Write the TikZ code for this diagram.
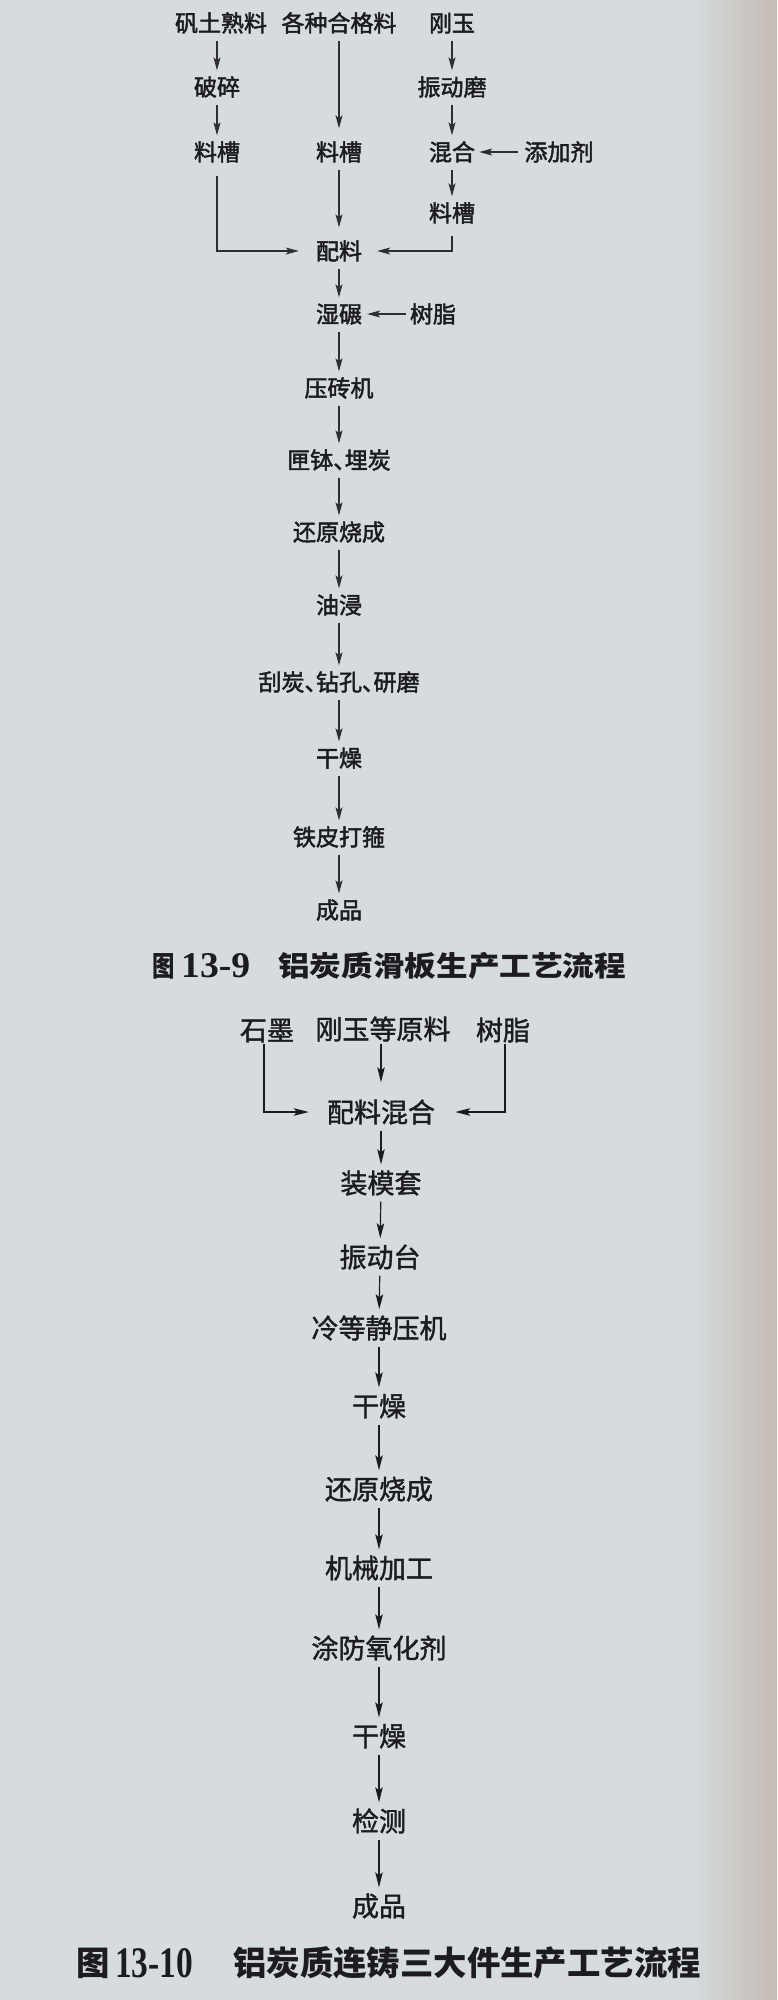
\documentclass[tikz,border=0pt]{standalone}
\usepackage{fontspec}
\usepackage{graphicx}
\setmainfont{Liberation Serif}
\newfontfamily\cjk{Noto Sans CJK SC}
\newfontfamily\cjkA[FakeBold=2]{Noto Sans CJK SC}
\newfontfamily\cjkB[FakeBold=1.4]{Noto Sans CJK SC}
\usetikzlibrary{arrows.meta}
\definecolor{paper}{RGB}{214,219,222}
\definecolor{edge}{RGB}{196,188,180}
\definecolor{ink}{RGB}{28,28,32}
\definecolor{lineA}{RGB}{45,45,50}
\newcommand{\dun}{、\hspace{-0.5em}}
\tikzset{
  tA/.style={inner xsep=2pt, inner ysep=0pt, text height=20.2pt, text depth=2.8pt,
    font=\cjkA\fontsize{23}{23}\selectfont, text=ink},
  tB/.style={inner xsep=2pt, inner ysep=0pt, text height=23.8pt, text depth=3.2pt,
    font=\cjkB\fontsize{27}{27}\selectfont, text=ink},
  capA/.style={inner sep=0pt, anchor=west, text height=24.6pt, text depth=3.4pt,
    font=\cjk\bfseries\fontsize{28}{28}\selectfont, text=ink},
  capB/.style={inner sep=0pt, anchor=west, text height=29.4pt, text depth=4pt,
    font=\cjk\bfseries\fontsize{33.4}{33.4}\selectfont, text=ink},
  capN/.style={inner sep=0pt, anchor=west, font=\bfseries, text=ink},
  arA/.style={draw=lineA, line width=1.1pt, -{Stealth[length=13pt,width=7pt,inset=3pt]},
    shorten <=6pt, shorten >=5pt},
  arB/.style={draw=ink, line width=1.2pt, -{Stealth[length=15pt,width=7.5pt,inset=3pt]},
    shorten <=5pt, shorten >=5pt},
}
\begin{document}
\begin{tikzpicture}[x=1pt,y=-1pt]
\useasboundingbox (0,0) rectangle (777,2000);
\fill[paper] (0,0) rectangle (777,2000);
\shade[left color=paper, right color=edge] (690,0) rectangle (777,2000);

% ---------- Figure 13-9 ----------
\node[tA] (a1) at (221,23) {矾土熟料};
\node[tA] (a2) at (339,23) {各种合格料};
\node[tA] (a3) at (452,23) {刚玉};
\node[tA] (b1) at (217,87) {破碎};
\node[tA] (b3) at (452,87) {振动磨};
\node[tA] (c1) at (217,152) {料槽};
\node[tA] (c2) at (339,152) {料槽};
\node[tA] (c3) at (452,152) {混合};
\node[tA] (c4) at (559,152) {添加剂};
\node[tA] (d3) at (452,213) {料槽};
\node[tA] (e) at (339,251) {配料};
\node[tA] (f) at (339,314) {湿碾};
\node[tA] (f2) at (433,314) {树脂};
\node[tA] (g) at (339,388) {压砖机};
\node[tA] (h) at (339,460) {匣钵\dun 埋炭};
\node[tA] (i) at (339,532) {还原烧成};
\node[tA] (j) at (339,605) {油浸};
\node[tA] (k) at (339,682) {刮炭\dun 钻孔\dun 研磨};
\node[tA] (l) at (339,758) {干燥};
\node[tA] (m) at (339,837) {铁皮打箍};
\node[tA] (n) at (339,910) {成品};

\draw[arA] (b1 |- a1.south) -- (b1);
\draw[arA] (b1) -- (c1);
\draw[arA, shorten >=12pt] (a2) -- (c2);
\draw[arA, shorten >=12pt] (c2) -- (e);
\draw[arA] (a3) -- (b3);
\draw[arA] (b3) -- (c3);
\draw[arA] (c3) -- (d3);
\draw[arA, shorten <=4pt, shorten >=2pt] (c4) -- (c3);
\draw[arA, shorten <=12pt, shorten >=15pt] (c1) |- (e);
\draw[arA, shorten <=11pt, shorten >=13pt] (d3) |- (e);
\draw[arA] (e) -- (f);
\draw[arA, shorten <=2pt, shorten >=3pt] (f2) -- (f);
\draw[arA] (f) -- (g);
\draw[arA] (g) -- (h);
\draw[arA] (h) -- (i);
\draw[arA] (i) -- (j);
\draw[arA] (j) -- (k);
\draw[arA] (k) -- (l);
\draw[arA] (l) -- (m);
\draw[arA] (m) -- (n);

\node[capA] (cap1a) at (152,965.5) {\scalebox{0.8}[1]{图}};
\node[capN] (cap1b) at (181,965.5) {\resizebox{69pt}{24pt}{13-9}};
\node[capA] (cap1c) at (278,965.5) {\scalebox{1.13}[1]{铝炭质滑板生产工艺流程}};

% ---------- Figure 13-10 ----------
\node[tB] (p1) at (267,1030) {石墨};
\node[tB] (p2) at (383,1029) {刚玉等原料};
\node[tB] (p3) at (503,1030) {树脂};
\node[tB] (q) at (381,1112) {配料混合};
\node[tB] (r1) at (381,1183) {装模套};
\node[tB] (r2) at (380,1257) {振动台};
\node[tB] (r3) at (379,1328) {冷等静压机};
\node[tB] (r4) at (379,1406) {干燥};
\node[tB] (r5) at (379,1489) {还原烧成};
\node[tB] (r6) at (379,1568) {机械加工};
\node[tB] (r7) at (379,1648) {涂防氧化剂};
\node[tB] (r8) at (379,1736) {干燥};
\node[tB] (r9) at (379,1821) {检测};
\node[tB] (r10) at (379,1906) {成品};

\draw[arB, shorten <=1pt, shorten >=16pt] (q |- p2.south) -- (q);
\draw[arB, shorten <=0pt, shorten >=16pt] ([xshift=-3pt]p1.south) |- (q);
\draw[arB, shorten <=0pt, shorten >=18pt] ([xshift=2pt]p3.south) |- (q);
\draw[arB] (q) -- (r1);
\draw[arB] (r1) -- (r2);
\draw[arB] (r2) -- (r3);
\draw[arB] (r3) -- (r4);
\draw[arB] (r4) -- (r5);
\draw[arB] (r5) -- (r6);
\draw[arB] (r6) -- (r7);
\draw[arB] (r7) -- (r8);
\draw[arB] (r8) -- (r9);
\draw[arB] (r9) -- (r10);

\node[capB] (cap2a) at (76,1963) {图};
\node[capN] (cap2b) at (115,1963) {\resizebox{78pt}{29pt}{13-10}};
\node[capB] (cap2c) at (233,1963) {铝炭质连铸三大件生产工艺流程};
\end{tikzpicture}
\end{document}
